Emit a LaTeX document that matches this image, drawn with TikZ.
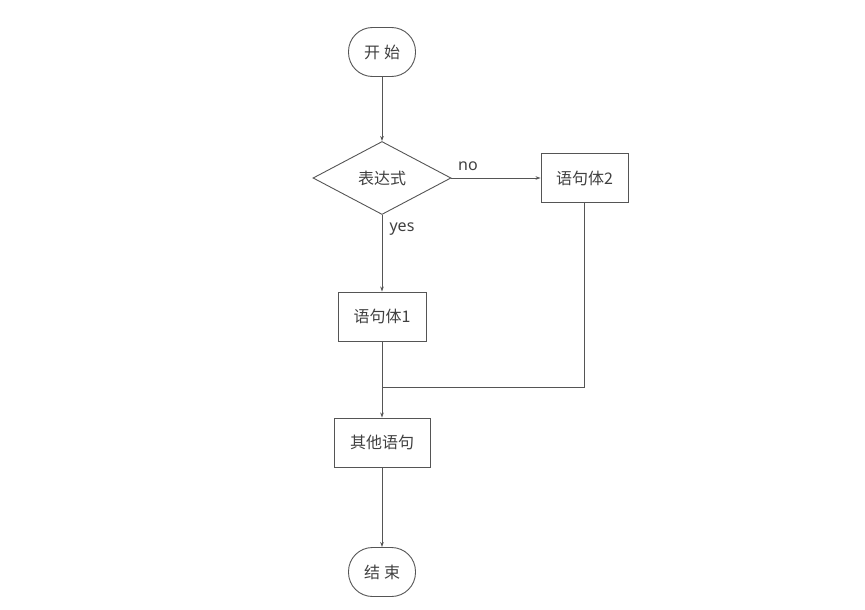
\documentclass[tikz,border=0pt]{standalone}
\usepackage{fontspec}
\setmainfont{Noto Sans}
\newfontfamily\cjk{Noto Sans CJK SC}
\usetikzlibrary{shapes.geometric,arrows.meta}
\definecolor{linecol}{HTML}{555555}
\definecolor{textcol}{HTML}{404040}
\tikzset{
  base/.style={draw=linecol, line width=0.9pt, text=textcol, font=\cjk\fontsize{16}{19}\selectfont, inner sep=0pt},
  terminal/.style={base, rectangle, rounded corners=24pt, minimum width=67pt, minimum height=49pt},
  procbox/.style={base, rectangle, minimum height=49pt},
  decision/.style={base, diamond, minimum width=138pt, minimum height=73pt},
  conn/.style={draw=linecol, line width=0.9pt, -{Stealth[length=5pt,width=3.5pt]}},
  plain/.style={draw=linecol, line width=0.9pt},
  lbl/.style={text=textcol, font=\fontsize{16}{19}\selectfont, inner sep=0pt}
}
\begin{document}
\begin{tikzpicture}[x=1pt,y=-1pt]
\useasboundingbox (0,0) rectangle (865,610);
\node[terminal] (start) at (382,52) {开\hspace{4pt}始};
\node[decision] (cond) at (382,178) {表达式};
\node[procbox, minimum width=87pt] (b2) at (584.5,178) {语句体2};
\node[procbox, minimum width=88pt] (b1) at (382,316.5) {语句体1};
\node[procbox, minimum width=96pt] (b3) at (382,442.5) {其他语句};
\node[terminal] (end) at (382,572) {结\hspace{4pt}束};
\coordinate (merge) at (382,387);
\draw[conn] (start) -- (cond);
\draw[conn] (cond.east) -- (b2.west);
\draw[conn] (cond.south) -- (b1.north);
\draw[conn] (b1.south) -- (b3.north);
\draw[plain] (b2.south) |- (merge);
\draw[conn] (b3.south) -- (end.north);
\node[lbl] (no) at (468,166) {no};
\node[lbl] (yes) at (402,229) {yes};
\end{tikzpicture}
\end{document}
